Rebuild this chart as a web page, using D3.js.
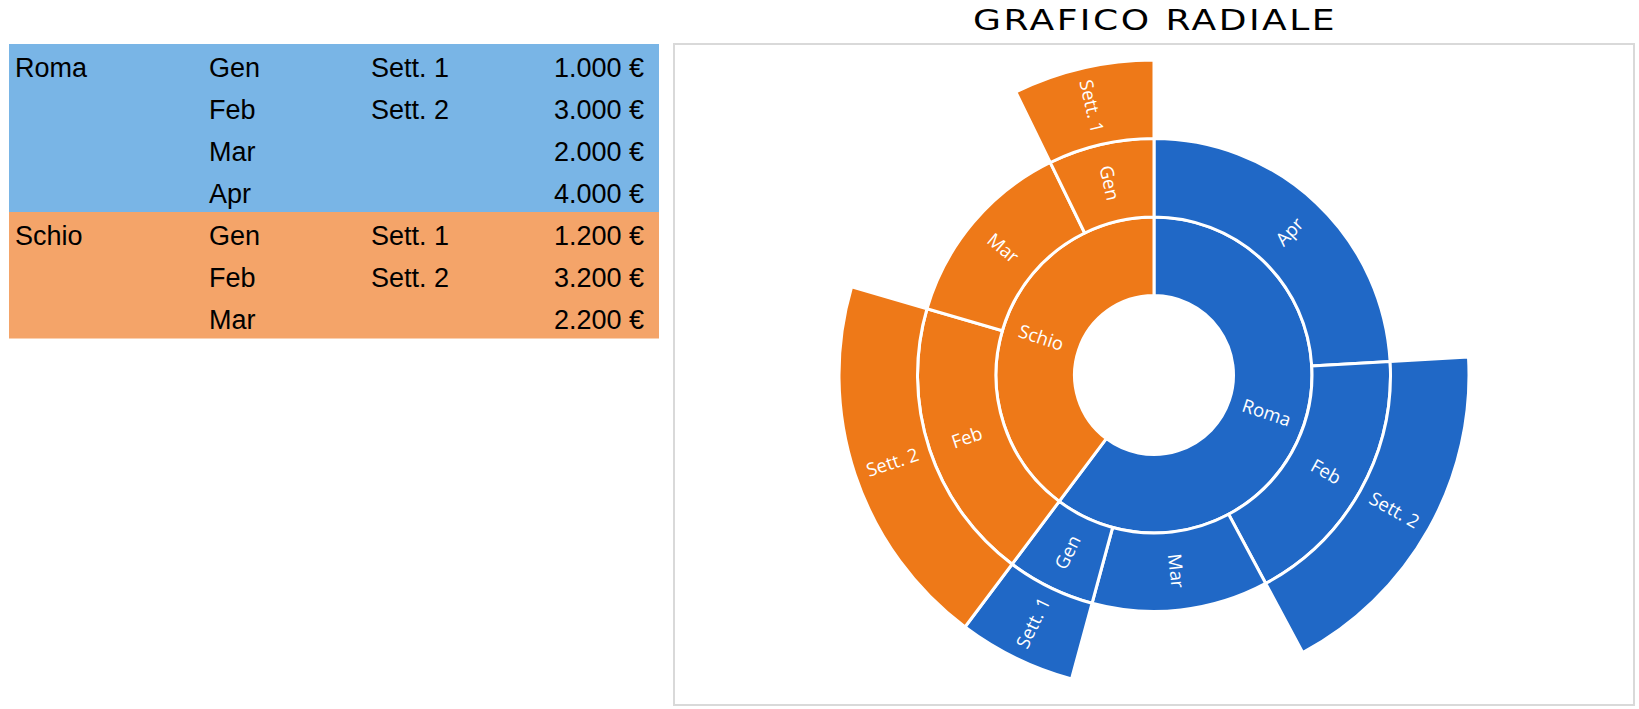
<!DOCTYPE html>
<html>
<head>
<meta charset="utf-8">
<script src="https://cdn.jsdelivr.net/npm/d3@7"></script>
<style>
  html, body { margin: 0; padding: 0; background: #ffffff; }
  svg { display: block; }
</style>
</head>
<body>
<svg id="chart" width="1639" height="709"></svg>
<script>
// ---- Data ----
const cities = ["Roma", "Roma", "Roma", "Roma", "Schio", "Schio", "Schio"];
const months = ["Gen", "Feb", "Mar", "Apr", "Gen", "Feb", "Mar"];
const weeks  = ["Sett. 1", "Sett. 2", "", "", "Sett. 1", "Sett. 2", ""];
const values = [1000, 3000, 2000, 4000, 1200, 3200, 2200];
const title = "GRAFICO RADIALE";

// ---- Styles ----
const chartColors = { "Roma": "#2068C6", "Schio": "#EE7918" };
const tableColors = { "Roma": "#79B5E6", "Schio": "#F4A469" };

const svg = d3.select("#chart");
svg.append("rect").attr("width", 1639).attr("height", 709).attr("fill", "#fff");

// ---- Table ----
const locale = d3.formatLocale({ decimal: ",", thousands: ".", grouping: [3], currency: ["", "\u00a0€"] });
const fmt = locale.format("$,");

const rowH = 42, tableTop = 44, tableLeft = 9, tableRight = 659;
const rowY = d3.scaleLinear().domain([0, 1]).range([tableTop, tableTop + rowH]);
const table = svg.append("g").attr("font-family", "'Liberation Sans', Arial, sans-serif").attr("font-size", 27).attr("fill", "#000");

values.forEach((v, i) => {
  const y0 = rowY(i);
  table.append("rect")
    .attr("x", tableLeft).attr("y", y0).attr("width", tableRight - tableLeft).attr("height", rowH + 0.5)
    .attr("fill", tableColors[cities[i]]);
});
values.forEach((v, i) => {
  const yb = rowY(i) + 32.7;
  if (i === 0 || cities[i] !== cities[i - 1]) {
    table.append("text").attr("x", 15).attr("y", yb).text(cities[i]);
  }
  table.append("text").attr("x", 209).attr("y", yb).text(months[i]);
  if (weeks[i]) table.append("text").attr("x", 371).attr("y", yb).text(weeks[i]);
  table.append("text").attr("x", 644).attr("y", yb).attr("text-anchor", "end").text(fmt(v));
});

// ---- Chart frame and title ----
svg.append("rect")
  .attr("x", 674).attr("y", 44).attr("width", 960).attr("height", 661)
  .attr("fill", "#fff").attr("stroke", "#D9D9D9").attr("stroke-width", 2);

svg.append("text")
  .attr("x", 1155).attr("y", 29.5)
  .attr("text-anchor", "middle")
  .attr("font-family", "'DejaVu Sans', sans-serif")
  .attr("font-size", 29)
  .attr("letter-spacing", 2)
  .attr("textLength", 364).attr("lengthAdjust", "spacingAndGlyphs")
  .attr("fill", "#000")
  .text(title);

// ---- Hierarchy ----
const rootData = { name: "root", children: [] };
values.forEach((v, i) => {
  let c = rootData.children.find(d => d.name === cities[i]);
  if (!c) { c = { name: cities[i], children: [] }; rootData.children.push(c); }
  if (weeks[i]) {
    c.children.push({ name: months[i], children: [{ name: weeks[i], value: v }] });
  } else {
    c.children.push({ name: months[i], value: v });
  }
});

const root = d3.hierarchy(rootData)
  .sum(d => d.value || 0)
  .sort((a, b) => b.value - a.value);

d3.partition().size([2 * Math.PI, 4])(root);

const cx = 1154, cy = 375;
const radius = d3.scaleLinear().domain([1, 4]).range([79.5, 315]);

const arc = d3.arc()
  .startAngle(d => d.x0)
  .endAngle(d => d.x1)
  .innerRadius(d => radius(d.y0))
  .outerRadius(d => radius(d.y1));

const g = svg.append("g").attr("transform", `translate(${cx},${cy})`);
const nodes = root.descendants().filter(d => d.depth > 0);
const cityOf = d => d.ancestors().find(a => a.depth === 1).data.name;

g.selectAll("path")
  .data(nodes)
  .join("path")
  .attr("d", arc)
  .attr("fill", d => chartColors[cityOf(d)])
  .attr("stroke", "#fff")
  .attr("stroke-width", 3)
  .attr("stroke-linejoin", "miter");

g.selectAll("text.lbl")
  .data(nodes)
  .join("text")
  .attr("class", "lbl")
  .attr("transform", d => {
    const a = (d.x0 + d.x1) / 2;
    const r = (radius(d.y0) + radius(d.y1)) / 2;
    let deg = a * 180 / Math.PI - 90;
    if (deg > 90) deg -= 180;
    return `translate(${r * Math.sin(a)},${-r * Math.cos(a)}) rotate(${deg})`;
  })
  .attr("text-anchor", "middle")
  .attr("dy", "0.36em")
  .attr("font-family", "'Open Sans', 'Noto Sans', sans-serif")
  .attr("font-size", 18.5)
  .attr("fill", "#fff")
  .text(d => d.data.name);
</script>
</body>
</html>
